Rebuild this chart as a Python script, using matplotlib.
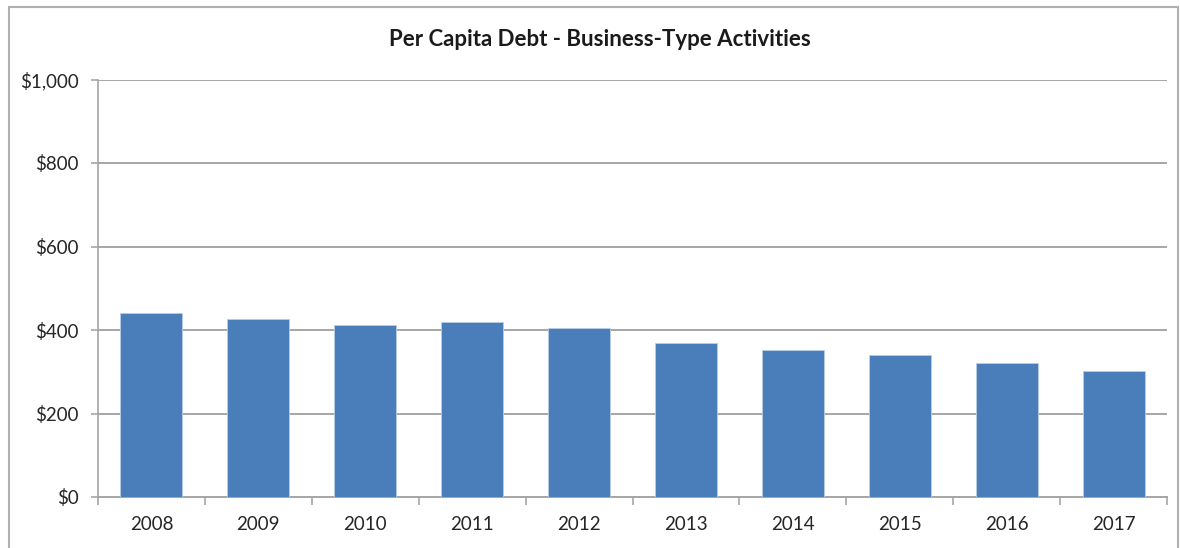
import matplotlib
matplotlib.use("Agg")
import matplotlib.pyplot as plt
from matplotlib.ticker import FuncFormatter, FixedLocator
from matplotlib.patches import Rectangle

years = ["2008", "2009", "2010", "2011", "2012", "2013", "2014", "2015", "2016", "2017"]
debt = [441, 426, 413, 419, 405, 369, 352, 340, 320, 302]
title = "Per Capita Debt - Business-Type Activities"

plt.rcParams['font.family'] = ['Lato', 'DejaVu Sans']

fig = plt.figure(figsize=(11.8, 5.48), dpi=100)
ax = fig.add_axes([98/1180, 1 - 497/548, (1167-98)/1180, (497-79.5)/548])

x = list(range(len(years)))
ax.bar(x, debt, width=0.58, color="#4a7ebb", edgecolor="#b9cde5", linewidth=0.6, zorder=3)

ax.set_xlim(-0.5, len(years) - 0.5)
ax.set_ylim(0, 1000)
ax.set_yticks([0, 200, 400, 600, 800, 1000])
ax.yaxis.set_major_formatter(FuncFormatter(lambda v, p: "${:,.0f}".format(v)))
ax.grid(axis="y", color="#a6a6a6", linewidth=1.4, zorder=0)

ax.set_xticks(x)
ax.set_xticklabels(years)
ax.tick_params(axis="x", which="major", length=0, pad=14, labelsize=13.5, labelcolor="#262626")
ax.xaxis.set_minor_locator(FixedLocator([i - 0.5 for i in range(len(years) + 1)]))
ax.tick_params(axis="x", which="minor", length=6, width=1.2, color="#a6a6a6", direction="out")
ax.tick_params(axis="y", length=5, width=1.2, color="#a6a6a6", labelsize=13.5, labelcolor="#262626", pad=9)

for s in ["top", "right"]:
    ax.spines[s].set_visible(False)
ax.spines["left"].set_color("#a6a6a6")
ax.spines["left"].set_linewidth(1.2)
ax.spines["bottom"].set_color("#a6a6a6")
ax.spines["bottom"].set_linewidth(1.4)

fig.text(600/1180, 1 - 40/548, title, ha="center", va="center",
         fontsize=16, fontweight="bold", color="#1a1a1a")

fig.patches.append(Rectangle((9/1180, -0.1), (1178-9)/1180, 1.1 - 7/548, transform=fig.transFigure,
                             fill=False, edgecolor="#b0b0b0", linewidth=1.5))

fig.savefig("out.png", dpi=100)
